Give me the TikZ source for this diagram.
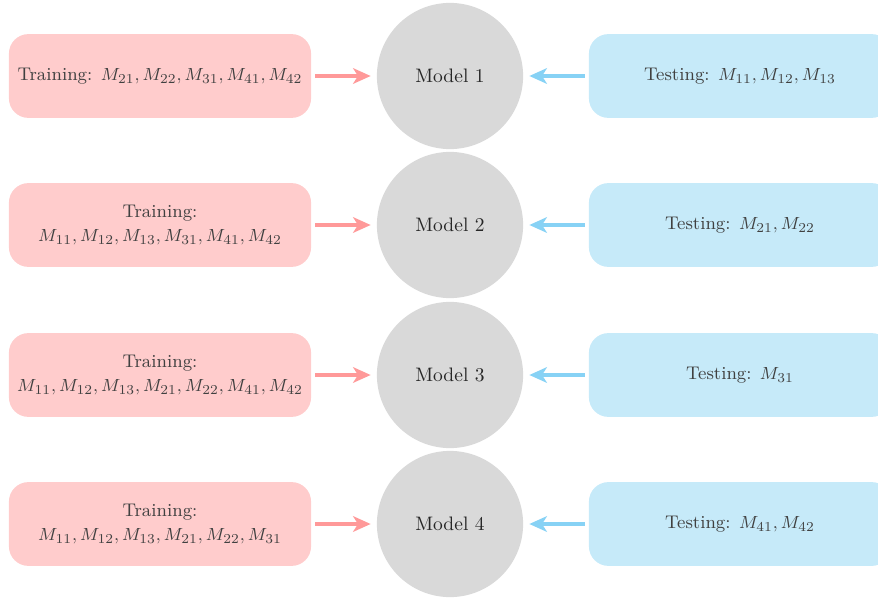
\documentclass[tikz,border=0pt]{standalone}
\usetikzlibrary{arrows.meta}
\definecolor{trainfill}{RGB}{255,204,204}
\definecolor{trainarrow}{RGB}{255,153,153}
\definecolor{testfill}{RGB}{198,234,249}
\definecolor{testarrow}{RGB}{135,210,245}
\definecolor{modelfill}{RGB}{217,217,217}
\begin{document}
\begin{tikzpicture}[x=0.513pt,y=-0.513pt,
  setbox/.style={rounded corners=10pt, minimum width=155pt, minimum height=43pt,
    align=center, text=black!75, inner sep=0pt, font=\fontsize{9.4pt}{12.8pt}\selectfont},
  trainbox/.style={setbox, fill=trainfill},
  testbox/.style={setbox, fill=testfill},
  model/.style={circle, fill=modelfill, minimum size=75pt, inner sep=0pt, text=black!85},
  trainlink/.style={draw=trainarrow, line width=2pt, -{Stealth[length=9pt,width=8pt,inset=2.5pt]},
    shorten <=2pt, shorten >=3pt},
  testlink/.style={draw=testarrow, line width=2pt, -{Stealth[length=9pt,width=8pt,inset=2.5pt]},
    shorten <=2pt, shorten >=3pt}]
\useasboundingbox (0,0) rectangle (878,601);

% models in the middle column
\node[model] (m1) at (450,76) {Model 1};
\node[model] (m2) at (450,225) {Model 2};
\node[model] (m3) at (450,375) {Model 3};
\node[model] (m4) at (450,524) {Model 4};

% training sets
\node[trainbox] (tr1) at (160,76) {Training: $M_{21}, M_{22}, M_{31}, M_{41}, M_{42}$};
\node[trainbox] (tr2) at (160,225) {Training:\\ $M_{11}, M_{12}, M_{13}, M_{31}, M_{41}, M_{42}$};
\node[trainbox] (tr3) at (160,375) {Training:\\ $M_{11}, M_{12}, M_{13}, M_{21}, M_{22}, M_{41}, M_{42}$};
\node[trainbox] (tr4) at (160,524) {Training:\\ $M_{11}, M_{12}, M_{13}, M_{21}, M_{22}, M_{31}$};

% testing sets
\node[testbox] (te1) at (740,76) {Testing: $M_{11}, M_{12}, M_{13}$};
\node[testbox] (te2) at (740,225) {Testing: $M_{21}, M_{22}$};
\node[testbox] (te3) at (740,375) {Testing: $M_{31}$};
\node[testbox] (te4) at (740,524) {Testing: $M_{41}, M_{42}$};

% connectors
\foreach \i in {1,...,4}{
  \draw[trainlink] (tr\i.east) -- (m\i.west);
  \draw[testlink] (te\i.west) -- (m\i.east);
}
\end{tikzpicture}
\end{document}
